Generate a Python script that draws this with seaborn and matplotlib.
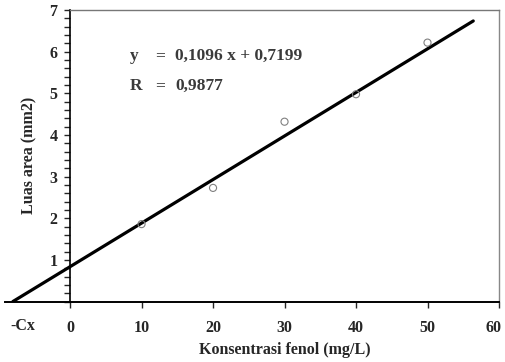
import numpy as np
import matplotlib
matplotlib.use("Agg")
import matplotlib.pyplot as plt
import matplotlib.transforms as mtransforms
import seaborn as sns
import pandas as pd

# data
conc = [10, 20, 30, 40, 50]
area = [1.86, 2.73, 4.32, 4.98, 6.22]
fit_x = [-8.0, 56.4]
fit_y = [0.0, 6.74]
slope = 0.1096
intercept = 0.7199
r_value = 0.9877
x_ticks = [0, 10, 20, 30, 40, 50, 60]
y_ticks = [1, 2, 3, 4, 5, 6, 7]

sns.set_style("ticks")
plt.rcParams['font.family'] = ['Liberation Serif', 'DejaVu Serif']
plt.rcParams['font.weight'] = 'bold'

points = pd.DataFrame({'x': conc, 'y': area})
fit = pd.DataFrame({'x': fit_x, 'y': fit_y})

fig = plt.figure(figsize=(5.05, 3.62), dpi=100)
ax = fig.add_axes([0.0099, 0.167, 0.9782, 0.805])

sns.lineplot(data=fit, x='x', y='y', color='black', linewidth=2.3, ax=ax)
sns.scatterplot(data=points, x='x', y='y', marker='o', s=26, facecolor='none',
                edgecolor='#808080', linewidth=0.8, ax=ax, zorder=3)

ax.set_xlim(-9.1, 60)
ax.set_ylim(0, 7)

# spines: y-axis sits at x = 0
ax.spines['left'].set_position(('data', 0))
ax.spines['left'].set_bounds(0, 7)
ax.spines['left'].set_linewidth(1.2)
ax.spines['left'].set_color('black')
ax.spines['bottom'].set_linewidth(1.4)
ax.spines['bottom'].set_color('black')
ax.spines['top'].set_bounds(0, 60)
ax.spines['top'].set_color('#777777')
ax.spines['top'].set_linewidth(1.0)
ax.spines['right'].set_color('#888888')
ax.spines['right'].set_linewidth(1.0)

fs = 11.5
ax.set_xticks(x_ticks)
ax.set_yticks(y_ticks)
ax.set_yticks(np.arange(0, 7.01, 0.2), minor=True)
ax.tick_params(axis='x', direction='out', length=4, width=1, pad=9, labelsize=fs)
ax.tick_params(axis='y', which='both', direction='out', length=4, width=1,
               pad=5, labelsize=fs)
for lab in ax.get_xticklabels() + ax.get_yticklabels():
    lab.set_fontweight('bold')

# keep the last x label inside the figure edge
last = ax.get_xticklabels()[-1]
last.set_transform(last.get_transform() +
                   mtransforms.ScaledTranslation(-4 / 72, 0, fig.dpi_scale_trans))

# -Cx label at the x-intercept
cx = -intercept / slope
trans = mtransforms.blended_transform_factory(ax.transData, ax.transAxes)
ax.text(cx, -0.058, '-Cx', transform=trans, ha='center', va='top', fontsize=fs,
        fontweight='bold')

ax.set_xlabel('Konsentrasi fenol (mg/L)', fontsize=fs, fontweight='bold')
ax.set_ylabel('Luas area (mm2)', fontsize=fs, fontweight='bold')
ax.xaxis.set_label_coords(0.567, -0.138)
ax.yaxis.set_label_coords(0.065, 0.503)

# regression text
txt_color = '#3a3a3a'
efs = 12.5
ax.text(8.4, 5.90, 'y', ha='left', va='center', fontsize=efs, fontweight='bold', color=txt_color)
ax.text(11.9, 5.90, '=', ha='left', va='center', fontsize=efs, fontweight='bold', color=txt_color)
ax.text(14.7, 5.90, f'{slope:.4f} x + {intercept:.4f}'.replace('.', ','),
        ha='left', va='center', fontsize=efs, fontweight='bold', color=txt_color)
ax.text(8.4, 5.18, 'R', ha='left', va='center', fontsize=efs, fontweight='bold', color=txt_color)
ax.text(11.9, 5.18, '=', ha='left', va='center', fontsize=efs, fontweight='bold', color=txt_color)
ax.text(14.7, 5.18, f'{r_value:.4f}'.replace('.', ','),
        ha='left', va='center', fontsize=efs, fontweight='bold', color=txt_color)

fig.savefig('out.png', dpi=100)
